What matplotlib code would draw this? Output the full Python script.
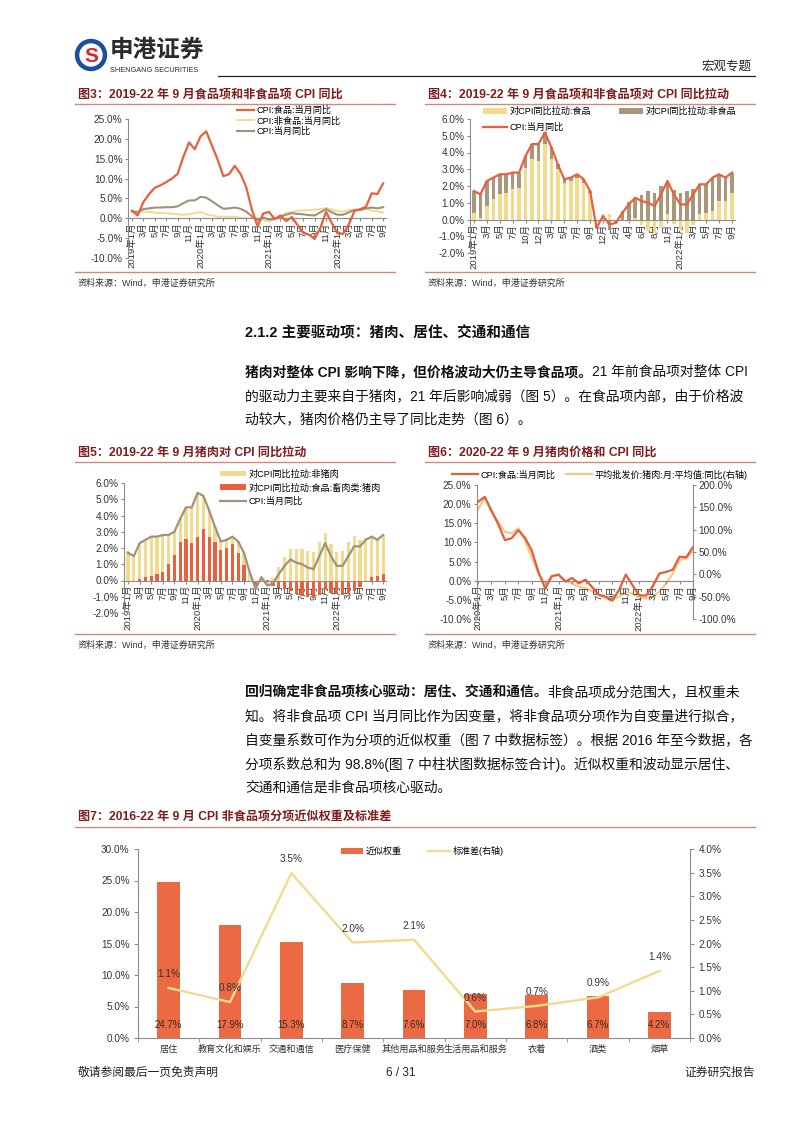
import numpy as np
import matplotlib
matplotlib.use('Agg')
import matplotlib.pyplot as plt
from matplotlib.patches import Circle
from matplotlib.ticker import FuncFormatter

plt.rcParams['font.family'] = ['Liberation Sans', 'Noto Sans CJK SC']
plt.rcParams['axes.unicode_minus'] = False

W, H = 802, 1133

# ---- fig3 / fig5: monthly 2019-01 .. 2022-09 ----
month_ticks = ['2019年1月', '3月', '5月', '7月', '9月', '11月',
               '2020年1月', '3月', '5月', '7月', '9月', '11月',
               '2021年1月', '3月', '5月', '7月', '9月', '11月',
               '2022年1月', '3月', '5月', '7月', '9月']
cpi_food = [1.9, 0.7, 4.1, 6.1, 7.7, 8.3, 9.1, 10.0, 11.2, 15.5, 19.1, 17.4,
            20.6, 21.9, 18.3, 14.8, 10.6, 11.1, 13.2, 11.2, 7.9, 2.2, -2.0, 1.2,
            1.6, -0.2, 0.7, -0.7, 0.3, -1.7, -3.7, -4.1, -5.2, -2.4, 1.6, -1.2,
            -3.8, -3.9, -1.5, 1.9, 2.3, 2.9, 6.3, 6.1, 8.8]
cpi_nonfood = [1.9, 1.8, 1.7, 1.6, 1.4, 1.3, 1.3, 1.1, 1.0, 0.9, 1.0, 1.3,
               1.6, 1.0, 0.7, 0.4, 0.4, 0.4, 0.4, 0.1, 0.0, 0.0, 0.0, -0.4,
               -0.8, -0.2, 0.5, 1.4, 1.6, 1.9, 2.0, 2.0, 2.2, 2.3, 2.6, 2.2,
               1.8, 1.7, 2.1, 2.2, 2.0, 2.5, 1.9, 1.7, 1.5]
cpi_all = [1.7, 1.5, 2.3, 2.5, 2.7, 2.7, 2.8, 2.8, 3.0, 3.8, 4.5, 4.5,
           5.4, 5.2, 4.3, 3.3, 2.4, 2.5, 2.7, 2.4, 1.7, 0.5, -0.5, 0.2,
           -0.3, -0.2, 0.4, 0.9, 1.3, 1.1, 1.0, 0.8, 0.7, 1.5, 2.3, 1.5,
           0.9, 0.9, 1.5, 2.1, 2.1, 2.5, 2.7, 2.5, 2.8]
pull_pork = [-0.1, -0.1, 0.1, 0.2, 0.3, 0.4, 0.55, 1.0, 1.6, 2.35, 2.55, 2.3,
             2.7, 3.15, 2.7, 2.35, 1.9, 2.0, 2.25, 1.7, 0.95, -0.05, -0.3, -0.03,
             0.06, -0.35, -0.45, -0.55, -0.65, -0.85, -0.95, -1.0, -1.05, -0.9, -0.6, -0.75,
             -0.85, -0.9, -0.85, -0.65, -0.4, -0.1, 0.22, 0.25, 0.4]
pull_nonpork = [1.8, 1.6, 2.2, 2.3, 2.4, 2.3, 2.25, 1.8, 1.4, 1.45, 1.95, 2.2,
                2.7, 2.05, 1.6, 0.95, 0.5, 0.5, 0.45, 0.7, 0.75, 0.55, -0.2, 0.23,
                -0.36, 0.15, 0.85, 1.45, 1.95, 1.95, 1.95, 1.8, 1.75, 2.4, 2.9, 2.25,
                1.75, 1.8, 2.35, 2.75, 2.5, 2.6, 2.5, 2.25, 2.4]

# ---- fig4: 41 published points (some months missing) ----
fig4_ticks = ['2019年1月', '3月', '5月', '7月', '10月', '12月', '3月', '5月', '7月',
              '9月', '12月', '2月', '4月', '6月', '8月', '11月', '2022年1月',
              '3月', '5月', '7月', '9月']
pull_food = [0.4, 0.1, 0.8, 1.2, 1.5, 1.6, 1.8, 1.9, 3.1, 3.6, 3.5,
             4.5, 3.6, 3.0, 2.2, 2.3, 2.5, 2.2, 1.6, -0.4, 0.3,
             0.3, -0.04, -0.1, -0.14, 0.06, -0.35, -0.7, -0.8, -0.5, 0.3, -0.25,
             -0.7, -0.8, -0.3, 0.35, 0.4, 0.5, 1.1, 1.1, 1.6]
pull_nonfood = [1.3, 1.4, 1.5, 1.3, 1.2, 1.1, 1.0, 0.9, 0.7, 0.9, 1.0,
                0.7, 0.7, 0.3, 0.2, 0.2, 0.2, 0.2, 0.1, -0.1, -0.1,
                -0.6, -0.16, 0.5, 1.04, 1.24, 1.45, 1.7, 1.6, 2.0, 2.0, 1.75,
                1.6, 1.7, 1.8, 1.75, 1.7, 2.0, 1.6, 1.4, 1.2]
cpi4 = [1.7, 1.5, 2.3, 2.5, 2.7, 2.7, 2.8, 2.8, 3.8, 4.5, 4.5,
        5.2, 4.3, 3.3, 2.4, 2.5, 2.7, 2.4, 1.7, -0.5, 0.2,
        -0.3, -0.2, 0.4, 0.9, 1.3, 1.1, 1.0, 0.8, 1.5, 2.3, 1.5,
        0.9, 0.9, 1.5, 2.1, 2.1, 2.5, 2.7, 2.5, 2.8]

# ---- fig6: 2020-01 .. 2022-09 ----
fig6_ticks = ['2020年1月', '3月', '5月', '7月', '9月', '11月',
              '2021年1月', '3月', '5月', '7月', '9月', '11月',
              '2022年1月', '3月', '5月', '7月', '9月']
pork_price_yoy = [145, 172, 140, 118, 95, 92, 103, 75, 38, 2, -20, -4,
                  -2, -15, -20, -28, -31, -38, -46, -54, -57, -50, -39, -43,
                  -52, -54, -50, -39, -20, 2, 32, 36, 51]

# ---- fig7 ----
items = ['居住', '教育文化和娱乐', '交通和通信', '医疗保健', '其他用品和服务',
         '生活用品和服务', '衣着', '酒类', '烟草']
weights = [24.7, 17.9, 15.3, 8.7, 7.6, 7.0, 6.8, 6.7, 4.2]
stdevs = [1.06, 0.76, 3.49, 2.02, 2.08, 0.56, 0.68, 0.86, 1.42]

RED = '#e8603c'
YEL = '#f3db8e'
BROWN = '#a8977a'
GREYLINE = '#a0927a'
TITLE = '#7f1d1d'
RULE = '#d08a78'
AXC = '#8c8c8c'

fig = plt.figure(figsize=(W / 100, H / 100), dpi=100)
bg = fig.add_axes([0, 0, 1, 1])
bg.set_xlim(0, W)
bg.set_ylim(H, 0)
bg.axis('off')


def px_axes(l, t, r, b):
    return fig.add_axes([l / W, 1 - b / H, (r - l) / W, (b - t) / H])


pct = FuncFormatter(lambda v, p: '{:.1f}%'.format(v))


def small_axis(ax, ylo, yhi, step, ticks, tickpos):
    ax.set_ylim(ylo, yhi)
    ax.set_yticks(np.arange(ylo, yhi + step / 2, step))
    ax.yaxis.set_major_formatter(pct)
    ax.spines['top'].set_visible(False)
    ax.spines['right'].set_visible(False)
    ax.spines['bottom'].set_position(('data', 0))
    for s in ['left', 'bottom']:
        ax.spines[s].set_color(AXC)
        ax.spines[s].set_linewidth(0.8)
    ax.set_xticks(tickpos)
    ax.set_xticklabels(ticks, rotation=90)
    ax.tick_params(axis='y', labelsize=7.2, length=2, color=AXC, pad=2, labelcolor='#333333')
    ax.tick_params(axis='x', labelsize=6.8, length=2, color=AXC, pad=1, labelcolor='#333333')
    ax.patch.set_alpha(0)


def stacked(ax, x, first, second, c1, c2, w):
    first = np.asarray(first)
    second = np.asarray(second)
    b1 = ax.bar(x, first, width=w, color=c1, zorder=2)
    base = np.where(np.sign(second) == np.sign(first), first, 0)
    b2 = ax.bar(x, second, bottom=base, width=w, color=c2, zorder=2)
    return b1, b2


# ---------------- page furniture ----------------
bg.add_patch(Circle((91, 55), 15.5, color='#1c4f9c'))
bg.add_patch(Circle((91, 55), 11, color='white'))
bg.text(91, 56, 'S', fontsize=15, fontweight='bold', color='#d8262e', ha='center', va='center')
bg.text(110, 50, '申港证券', fontsize=17, fontweight='bold', color='#2b2b2b', va='center', ha='left')
bg.text(110, 70, 'SHENGANG SECURITIES', fontsize=5.3, color='#2b2b2b', va='center', ha='left')
bg.plot([218, 755], [76, 76], color='#222222', lw=0.9)
bg.text(752, 67, '宏观专题', fontsize=9, color='#222222', ha='right', va='center')


def fig_title(x0, x1, y, txt):
    bg.text(x0 + 3, y, txt, fontsize=8.7, fontweight='bold', color=TITLE, va='center', ha='left')
    bg.plot([x0, x1], [y + 9, y + 9], color=RULE, lw=1.0)


def source(x0, x1, y):
    bg.plot([x0, x1], [y, y], color=RULE, lw=1.0)
    bg.text(x0 + 3, y + 11, '资料来源：Wind，申港证券研究所', fontsize=6.5,
            color='#333333', va='center', ha='left')


fig_title(75, 395, 95, '图3：2019-22 年 9 月食品项和非食品项 CPI 同比')
fig_title(425, 755, 95, '图4：2019-22 年 9 月食品项和非食品项对 CPI 同比拉动')
source(75, 395, 272)
source(425, 755, 272)
fig_title(75, 395, 453, '图5：2019-22 年 9 月猪肉对 CPI 同比拉动')
fig_title(425, 755, 453, '图6：2020-22 年 9 月猪肉价格和 CPI 同比')
source(75, 395, 634)
source(425, 755, 634)
fig_title(75, 755, 818, '图7：2016-22 年 9 月 CPI 非食品项分项近似权重及标准差')

renderer = fig.canvas.get_renderer()


def rich_line(x, y, parts, size=9.95):
    for txt, wt in parts:
        t = bg.text(x, y, txt, fontsize=size, fontweight=wt, color='#111111',
                    va='center', ha='left')
        bb = t.get_window_extent(renderer)
        x = bg.transData.inverted().transform((bb.x1, bb.y0))[0]


rich_line(245, 333, [('2.1.2 主要驱动项：猪肉、居住、交通和通信', 'bold')], size=10.5)
rich_line(245, 372, [('猪肉对整体 CPI 影响下降，但价格波动大仍主导食品项。', 'bold'),
                     ('21 年前食品项对整体 CPI', 'normal')])
rich_line(245, 396, [('的驱动力主要来自于猪肉，21 年后影响减弱（图 5）。在食品项内部，由于价格波', 'normal')])
rich_line(245, 419, [('动较大，猪肉价格仍主导了同比走势（图 6）。', 'normal')])

rich_line(245, 692, [('回归确定非食品项核心驱动：居住、交通和通信。', 'bold'),
                     ('非食品项成分范围大，且权重未', 'normal')])
rich_line(245, 716, [('知。将非食品项 CPI 当月同比作为因变量，将非食品项分项作为自变量进行拟合，', 'normal')])
rich_line(245, 740, [('自变量系数可作为分项的近似权重（图 7 中数据标签）。根据 2016 年至今数据，各', 'normal')])
rich_line(245, 764, [('分项系数总和为 98.8%(图 7 中柱状图数据标签合计)。近似权重和波动显示居住、', 'normal')])
rich_line(245, 788, [('交通和通信是非食品项核心驱动。', 'normal')])

bg.text(78, 1073, '敬请参阅最后一页免责声明', fontsize=8.5, color='#222222', va='center', ha='left')
bg.text(401, 1073, '6 / 31', fontsize=8.5, color='#222222', va='center', ha='center')
bg.text(755, 1073, '证券研究报告', fontsize=8.5, color='#222222', va='center', ha='right')

# ---------------- fig3 ----------------
x45 = np.arange(len(cpi_food))
ax3 = px_axes(128, 119, 386, 258)
l1, = ax3.plot(x45, cpi_food, color=RED, lw=1.6, zorder=3)
l2, = ax3.plot(x45, cpi_nonfood, color=YEL, lw=1.4, zorder=2)
l3, = ax3.plot(x45, cpi_all, color=GREYLINE, lw=1.5, zorder=2)
ax3.set_xlim(-0.7, 44.5)
small_axis(ax3, -10, 25, 5, month_ticks, x45[::2])
ax3.legend([l1, l2, l3], ['CPI:食品:当月同比', 'CPI:非食品:当月同比', 'CPI:当月同比'],
           loc='upper left', bbox_to_anchor=(237 / W, 1 - 106 / H), bbox_transform=fig.transFigure,
           frameon=False, fontsize=6.6, handlelength=1.8, handletextpad=0.3,
           labelspacing=0.15, borderpad=0, borderaxespad=0)

# ---------------- fig4 ----------------
x41 = np.arange(len(cpi4))
ax4 = px_axes(470, 119, 735, 253)
b1, b2 = stacked(ax4, x41, pull_food, pull_nonfood, YEL, BROWN, 0.55)
l4, = ax4.plot(x41, cpi4, color=RED, lw=1.6, zorder=3)
ax4.set_xlim(-0.62, 40.47)
small_axis(ax4, -2, 6, 1, fig4_ticks, x41[::2])
ax4.legend([b1, l4, b2], ['对CPI同比拉动:食品', 'CPI:当月同比', '对CPI同比拉动:非食品'],
           loc='upper left', bbox_to_anchor=(483 / W, 1 - 107 / H), bbox_transform=fig.transFigure,
           ncol=2, frameon=False, fontsize=6.6, handlelength=2.6, handleheight=0.6,
           handletextpad=0.3, labelspacing=0.75, columnspacing=3.0,
           borderpad=0, borderaxespad=0)

# ---------------- fig5 ----------------
ax5 = px_axes(124, 483, 386, 613)
b3, b4 = stacked(ax5, x45, pull_pork, pull_nonpork, RED, YEL, 0.55)
l5, = ax5.plot(x45, cpi_all, color=GREYLINE, lw=1.6, zorder=3)
ax5.set_xlim(-0.7, 44.5)
small_axis(ax5, -2, 6, 1, month_ticks, x45[::2])
ax5.legend([b4, b3, l5], ['对CPI同比拉动:非猪肉', '对CPI同比拉动:食品:畜肉类:猪肉', 'CPI:当月同比'],
           loc='upper left', bbox_to_anchor=(220 / W, 1 - 469.5 / H), bbox_transform=fig.transFigure,
           frameon=False, fontsize=6.6, handlelength=2.8, handleheight=0.6,
           handletextpad=0.3, labelspacing=0.5, borderpad=0, borderaxespad=0)

# ---------------- fig6 ----------------
x33 = np.arange(len(pork_price_yoy))
ax6 = px_axes(477, 485, 693, 619)
l6, = ax6.plot(x33, cpi_food[12:], color='#e0603a', lw=1.6, zorder=3)
ax6.set_xlim(-0.15, 32)
small_axis(ax6, -10, 25, 5, fig6_ticks, x33[::2])
ax6r = ax6.twinx()
l7, = ax6r.plot(x33, pork_price_yoy, color='#f6c98a', lw=1.6, zorder=2)
ax6r.set_ylim(-100, 200)
ax6r.set_yticks(np.arange(-100, 201, 50))
ax6r.yaxis.set_major_formatter(pct)
ax6r.spines['top'].set_visible(False)
ax6r.spines['left'].set_visible(False)
ax6r.spines['bottom'].set_visible(False)
ax6r.spines['right'].set_color(AXC)
ax6r.spines['right'].set_linewidth(0.8)
ax6r.tick_params(axis='y', labelsize=7.2, length=2, color=AXC, pad=2, labelcolor='#333333')
ax6.set_zorder(ax6r.get_zorder() + 1)
ax6.legend([l6, l7], ['CPI:食品:当月同比', '平均批发价:猪肉:月:平均值:同比(右轴)'],
           loc='upper left', bbox_to_anchor=(452 / W, 1 - 469.5 / H), bbox_transform=fig.transFigure,
           ncol=2, frameon=False, fontsize=6.6, handlelength=2.8, handletextpad=0.3,
           columnspacing=1.2, borderpad=0, borderaxespad=0)

# ---------------- fig7 ----------------
x9 = np.arange(len(items))
ax7 = px_axes(138, 849, 690, 1038)
b5 = ax7.bar(x9, weights, width=0.37, color='#ec6a43', zorder=2)
ax7.set_xlim(-0.5, 8.5)
ax7.set_ylim(0, 30)
ax7.set_yticks(np.arange(0, 31, 5))
ax7.yaxis.set_major_formatter(pct)
ax7.set_xticks(x9)
ax7.set_xticklabels(items)
ax7.set_xticks(np.arange(-0.5, 9, 1), minor=True)
ax7.tick_params(axis='x', which='major', length=0, labelsize=6.6, pad=5, labelcolor='#333333')
ax7.tick_params(axis='x', which='minor', length=3, color=AXC)
ax7.tick_params(axis='y', labelsize=7.2, length=3, color=AXC, pad=3, labelcolor='#333333')
ax7.spines['top'].set_visible(False)
ax7.spines['right'].set_visible(False)
for s in ['left', 'bottom']:
    ax7.spines[s].set_color(AXC)
    ax7.spines[s].set_linewidth(0.8)
for xi, v in zip(x9, weights):
    ax7.text(xi, 2.0, '{:.1f}%'.format(v), ha='center', va='center', fontsize=7, color='#3a2a20', zorder=4)
ax7r = ax7.twinx()
l8, = ax7r.plot(x9, stdevs, color='#f0dc8e', lw=1.7)
ax7r.set_ylim(0, 4)
ax7r.set_yticks(np.arange(0, 4.01, 0.5))
ax7r.yaxis.set_major_formatter(pct)
ax7r.spines['top'].set_visible(False)
ax7r.spines['left'].set_visible(False)
ax7r.spines['bottom'].set_visible(False)
ax7r.spines['right'].set_color(AXC)
ax7r.spines['right'].set_linewidth(0.8)
ax7r.tick_params(axis='y', labelsize=7.2, length=3, color=AXC, pad=3, labelcolor='#333333')
for xi, v in zip(x9, stdevs):
    ax7r.annotate('{:.1f}%'.format(v), (xi, v), xytext=(0, 10), textcoords='offset points',
                  ha='center', va='center', fontsize=7.2, color='#333333')
ax7.legend([b5, l8], ['近似权重', '标准差(右轴)'],
           loc='upper left', bbox_to_anchor=(341 / W, 1 - 846 / H), bbox_transform=fig.transFigure,
           ncol=2, frameon=False, fontsize=6.5, handlelength=2.4, handleheight=0.6,
           handletextpad=0.3, columnspacing=3.0, borderpad=0, borderaxespad=0)

fig.savefig('out.png', dpi=100)
